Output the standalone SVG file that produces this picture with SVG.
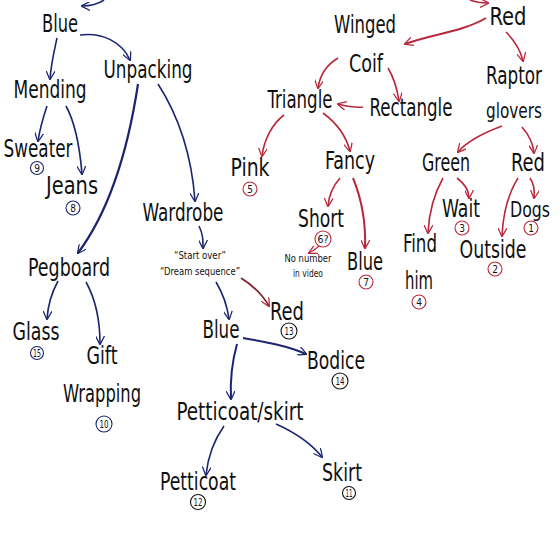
<svg xmlns="http://www.w3.org/2000/svg" width="560" height="560" viewBox="0 0 560 560">
<defs>
<marker id="hb" viewBox="0 0 10 10" refX="9" refY="5" markerWidth="9" markerHeight="9" markerUnits="userSpaceOnUse" orient="auto"><path d="M0,0 L10,5 L0,10" fill="none" stroke="#1c2470" stroke-width="1.4"/></marker>
<marker id="hr" viewBox="0 0 10 10" refX="9" refY="5" markerWidth="9" markerHeight="9" markerUnits="userSpaceOnUse" orient="auto"><path d="M0,0 L10,5 L0,10" fill="none" stroke="#b8283a" stroke-width="1.4"/></marker>
</defs>
<style>
text{font-family:"Liberation Sans Narrow","DejaVu Sans Condensed","Liberation Sans",sans-serif;fill:#111;text-anchor:middle}
.n{font-size:25px}
.m{font-size:21px}
.s{font-size:11px}
.num{font-size:10px}
.b{fill:none;stroke:#1c2470;stroke-width:1.6;marker-end:url(#hb)}
.r{fill:none;stroke:#b8283a;stroke-width:1.6;marker-end:url(#hr)}
.cb{fill:none;stroke:#1c2470;stroke-width:1.1}
.cr{fill:none;stroke:#b8283a;stroke-width:1.1}
.ck{fill:none;stroke:#111;stroke-width:1.1}
</style>
<rect width="560" height="560" fill="#fff"/>
<g id="connectors">
<path class="b" d="M104,0 C98,4 90,6 82,6"/>
<path class="b" d="M57,38 C54,52 51,64 50,79"/>
<path class="b" d="M80,35 C102,32 122,42 130,60"/>
<path class="b" d="M47,106 C43,118 40,128 38,141"/>
<path class="b" d="M66,106 C76,124 80,150 82,174"/>
<path class="b" d="M138,84 C128,150 110,210 78,253" style="stroke-width:2.2"/>
<path class="b" d="M158,84 C180,118 192,160 195,201"/>
<path class="b" d="M199,226 C203,234 203,240 203,248"/>
<path class="b" d="M58,281 C52,292 48,304 47,319"/>
<path class="b" d="M86,282 C96,300 100,320 100,344"/>
<path class="b" d="M216,282 C222,292 227,304 229,319"/>
<path class="r" d="M241,278 C254,286 262,294 269,306" style="stroke:#7a2030"/>
<path class="b" d="M243,338 C266,342 288,346 306,354" style="stroke-width:2"/>
<path class="b" d="M237,344 C232,362 230,380 231,399" style="stroke-width:2"/>
<path class="b" d="M224,426 C214,440 208,456 206,475"/>
<path class="b" d="M276,424 C294,432 310,442 322,457"/>
<path class="r" d="M470,0 C475,2 481,3 488,3"/>
<path class="r" d="M486,18 C462,32 432,34 405,44" style="stroke-width:2"/>
<path class="r" d="M506,32 C514,40 520,48 523,61"/>
<path class="r" d="M338,58 C328,64 320,74 318,88"/>
<path class="r" d="M388,68 C394,78 397,88 399,101"/>
<path class="r" d="M363,107 C354,108 346,106 338,104"/>
<path class="r" d="M284,115 C272,124 264,140 262,156"/>
<path class="r" d="M323,113 C338,124 346,136 350,151"/>
<path class="r" d="M502,126 C486,132 468,140 458,152"/>
<path class="r" d="M522,127 C529,135 533,142 534,153"/>
<path class="r" d="M340,178 C333,186 329,194 328,206"/>
<path class="r" d="M353,178 C362,200 366,222 365,248" style="stroke-width:2"/>
<path class="r" d="M443,178 C434,194 429,212 428,233"/>
<path class="r" d="M457,178 C465,184 469,190 469,198"/>
<path class="r" d="M518,178 C508,194 503,214 502,236"/>
<path class="r" d="M530,178 C534,184 535,190 534,198"/>
<path class="r" d="M319,246 C316,249 313,251 309,253" style="stroke-width:1.1"/>
</g>
<g id="n-blue1"><text class="n" x="60" y="32" textLength="36" lengthAdjust="spacingAndGlyphs">Blue</text></g>
<g id="n-unpacking"><text class="n" x="148" y="78" textLength="89" lengthAdjust="spacingAndGlyphs">Unpacking</text></g>
<g id="n-mending"><text class="n" x="50" y="98" textLength="73" lengthAdjust="spacingAndGlyphs">Mending</text></g>
<g id="n-sweater"><text class="n" x="38" y="157" textLength="69" lengthAdjust="spacingAndGlyphs">Sweater</text><circle class="cb" cx="37" cy="168" r="6.5"/><text class="num" x="37" y="171.5">9</text></g>
<g id="n-jeans"><text class="n" x="72" y="194" textLength="52" lengthAdjust="spacingAndGlyphs">Jeans</text><circle class="cb" cx="73" cy="208" r="7"/><text class="num" x="73" y="211.5">8</text></g>
<g id="n-wardrobe"><text class="n" x="183" y="221" textLength="81" lengthAdjust="spacingAndGlyphs">Wardrobe</text></g>
<g id="n-dream"><text class="s" x="200" y="259" textLength="52" lengthAdjust="spacingAndGlyphs">“Start over”</text><text class="s" x="200" y="275" textLength="80" lengthAdjust="spacingAndGlyphs">“Dream sequence”</text></g>
<g id="n-pegboard"><text class="n" x="69" y="276" textLength="82" lengthAdjust="spacingAndGlyphs">Pegboard</text></g>
<g id="n-glass"><text class="n" x="36" y="340" textLength="47" lengthAdjust="spacingAndGlyphs">Glass</text><circle class="cb" cx="37" cy="353" r="6.5"/><text class="num" x="37" y="356.5" textLength="8" lengthAdjust="spacingAndGlyphs">15</text></g>
<g id="n-gift"><text class="n" x="102" y="364" textLength="31" lengthAdjust="spacingAndGlyphs">Gift</text><text class="n" x="102" y="402" textLength="78" lengthAdjust="spacingAndGlyphs">Wrapping</text><circle class="cb" cx="104" cy="424" r="8"/><text class="num" x="104" y="427.5" textLength="9" lengthAdjust="spacingAndGlyphs">10</text></g>
<g id="n-blue2"><text class="n" x="221" y="338" textLength="37" lengthAdjust="spacingAndGlyphs">Blue</text></g>
<g id="n-red2"><text class="n" x="287" y="320" textLength="34" lengthAdjust="spacingAndGlyphs">Red</text><circle class="ck" cx="289" cy="331" r="8"/><text class="num" x="289" y="334.5" textLength="9" lengthAdjust="spacingAndGlyphs">13</text></g>
<g id="n-bodice"><text class="n" x="336" y="369" textLength="58" lengthAdjust="spacingAndGlyphs">Bodice</text><circle class="ck" cx="340" cy="381" r="8"/><text class="num" x="340" y="384.5" textLength="9" lengthAdjust="spacingAndGlyphs">14</text></g>
<g id="n-petskirt"><text class="n" x="240" y="420" textLength="127" lengthAdjust="spacingAndGlyphs">Petticoat/skirt</text></g>
<g id="n-petticoat"><text class="n" x="198" y="490" textLength="76" lengthAdjust="spacingAndGlyphs">Petticoat</text><circle class="ck" cx="198" cy="502" r="7.5"/><text class="num" x="198" y="505.5" textLength="9" lengthAdjust="spacingAndGlyphs">12</text></g>
<g id="n-skirt"><text class="n" x="342" y="481" textLength="40" lengthAdjust="spacingAndGlyphs">Skirt</text><circle class="ck" cx="349" cy="493" r="6.5"/><text class="num" x="349" y="496.5" textLength="7" lengthAdjust="spacingAndGlyphs">11</text></g>
<g id="n-red1"><text class="n" x="508" y="25" textLength="37" lengthAdjust="spacingAndGlyphs">Red</text></g>
<g id="n-winged"><text class="n" x="365" y="33" textLength="62" lengthAdjust="spacingAndGlyphs">Winged</text></g>
<g id="n-coif"><text class="n" x="366" y="72" textLength="34" lengthAdjust="spacingAndGlyphs">Coif</text></g>
<g id="n-raptor"><text class="n" x="514" y="84" textLength="56" lengthAdjust="spacingAndGlyphs">Raptor</text><text class="m" x="514" y="118" textLength="56" lengthAdjust="spacingAndGlyphs">glovers</text></g>
<g id="n-triangle"><text class="n" x="300" y="108" textLength="65" lengthAdjust="spacingAndGlyphs">Triangle</text></g>
<g id="n-rectangle"><text class="n" x="411" y="116" textLength="83" lengthAdjust="spacingAndGlyphs">Rectangle</text></g>
<g id="n-pink"><text class="n" x="250" y="176" textLength="39" lengthAdjust="spacingAndGlyphs">Pink</text><circle class="cr" cx="250" cy="189" r="7"/><text class="num" x="250" y="192.5">5</text></g>
<g id="n-fancy"><text class="n" x="350" y="169" textLength="50" lengthAdjust="spacingAndGlyphs">Fancy</text></g>
<g id="n-green"><text class="n" x="446" y="171" textLength="48" lengthAdjust="spacingAndGlyphs">Green</text></g>
<g id="n-red3"><text class="n" x="528" y="171" textLength="34" lengthAdjust="spacingAndGlyphs">Red</text></g>
<g id="n-short"><text class="n" x="321" y="227" textLength="46" lengthAdjust="spacingAndGlyphs">Short</text><circle class="cr" cx="323" cy="239" r="8"/><text class="num" x="323" y="242.5" textLength="11" lengthAdjust="spacingAndGlyphs">6?</text></g>
<g id="n-nonumber"><text class="s" x="308" y="262" textLength="47" lengthAdjust="spacingAndGlyphs">No number</text><text class="s" x="308" y="277" textLength="30" lengthAdjust="spacingAndGlyphs">in video</text></g>
<g id="n-blue3"><text class="n" x="365" y="270" textLength="36" lengthAdjust="spacingAndGlyphs">Blue</text><circle class="cr" cx="366" cy="282" r="7"/><text class="num" x="366" y="285.5">7</text></g>
<g id="n-wait"><text class="n" x="461" y="217" textLength="38" lengthAdjust="spacingAndGlyphs">Wait</text><circle class="cr" cx="462" cy="228" r="7"/><text class="num" x="462" y="231.5">3</text></g>
<g id="n-dogs"><text class="m" x="530" y="217" textLength="40" lengthAdjust="spacingAndGlyphs">Dogs</text><circle class="cr" cx="531" cy="228" r="7"/><text class="num" x="531" y="231.5">1</text></g>
<g id="n-findhim"><text class="n" x="420" y="252" textLength="34" lengthAdjust="spacingAndGlyphs">Find</text><text class="n" x="419" y="289" textLength="28" lengthAdjust="spacingAndGlyphs">him</text><circle class="cr" cx="419" cy="302" r="7"/><text class="num" x="419" y="305.5">4</text></g>
<g id="n-outside"><text class="n" x="493" y="258" textLength="67" lengthAdjust="spacingAndGlyphs">Outside</text><circle class="cr" cx="495" cy="269" r="7"/><text class="num" x="495" y="272.5">2</text></g>
</svg>
